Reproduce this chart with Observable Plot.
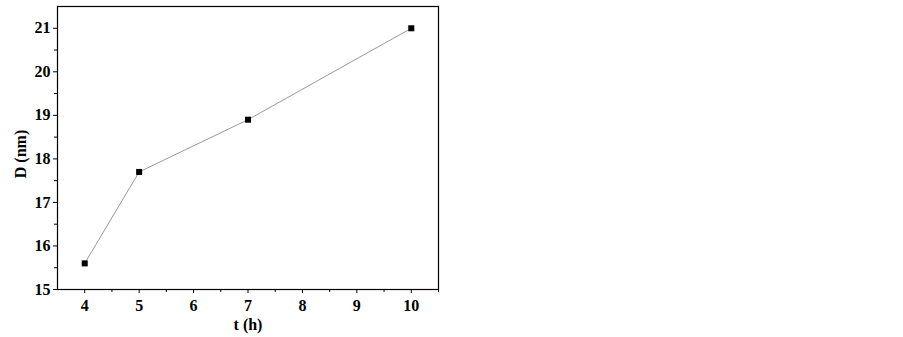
<!DOCTYPE html>
<html><head><meta charset="utf-8">
<script src="https://cdn.jsdelivr.net/npm/d3@7"></script>
<script src="https://cdn.jsdelivr.net/npm/@observablehq/plot@0.6"></script>
<style>body{margin:0;background:#fff}</style>
</head><body><div id="chart"></div>
<script>
const times = [4, 5, 7, 10];
const diameters = [15.6, 17.7, 18.9, 21.0];
const xTicks = [4, 5, 6, 7, 8, 9, 10];
const xMinor = [4.5, 5.5, 6.5, 7.5, 8.5, 9.5, 10.5];
const yTicks = [15, 16, 17, 18, 19, 20, 21];
const yMinor = [15.5, 16.5, 17.5, 18.5, 19.5, 20.5];
const data = times.map((t, i) => ({t, d: diameters[i]}));
const font = "Liberation Serif";
const chart = Plot.plot({
  width: 903, height: 337,
  marginLeft: 57, marginRight: 465, marginTop: 6, marginBottom: 48,
  style: {fontFamily: font, fontSize: "16px", color: "#000", background: "#fff"},
  x: {domain: [3.5, 10.5]},
  y: {domain: [15, 21.5]},
  marks: [
    Plot.frame({stroke: "#000", strokeWidth: 1.2}),
    Plot.axisX({ticks: xMinor, tickSize: 3, text: null, label: null, stroke: "#000"}),
    Plot.axisX({ticks: xTicks, tickSize: 4, tickPadding: 6, tickFormat: d => String(d), label: null, fontWeight: "bold", fontSize: 16, stroke: "#000"}),
    Plot.axisY({ticks: yMinor, tickSize: 3, text: null, label: null, stroke: "#000"}),
    Plot.axisY({ticks: yTicks, tickSize: 4, tickPadding: 3, tickFormat: d => String(d), label: null, fontWeight: "bold", fontSize: 16, stroke: "#000"}),
    Plot.text(["t (h)"], {frameAnchor: "bottom", dy: 40, fontWeight: "bold", fontSize: 16, fill: "#000"}),
    Plot.text(["D (nm)"], {frameAnchor: "left", textAnchor: "middle", dx: -37, dy: 6, rotate: -90, fontWeight: "bold", fontSize: 16, fill: "#000"}),
    Plot.line(data, {x: "t", y: "d", stroke: "#999", strokeWidth: 1}),
    Plot.dot(data, {x: "t", y: "d", symbol: "square", r: 3.4, fill: "#000", stroke: "none"})
  ]
});
document.getElementById("chart").appendChild(chart);
</script>
</body></html>
